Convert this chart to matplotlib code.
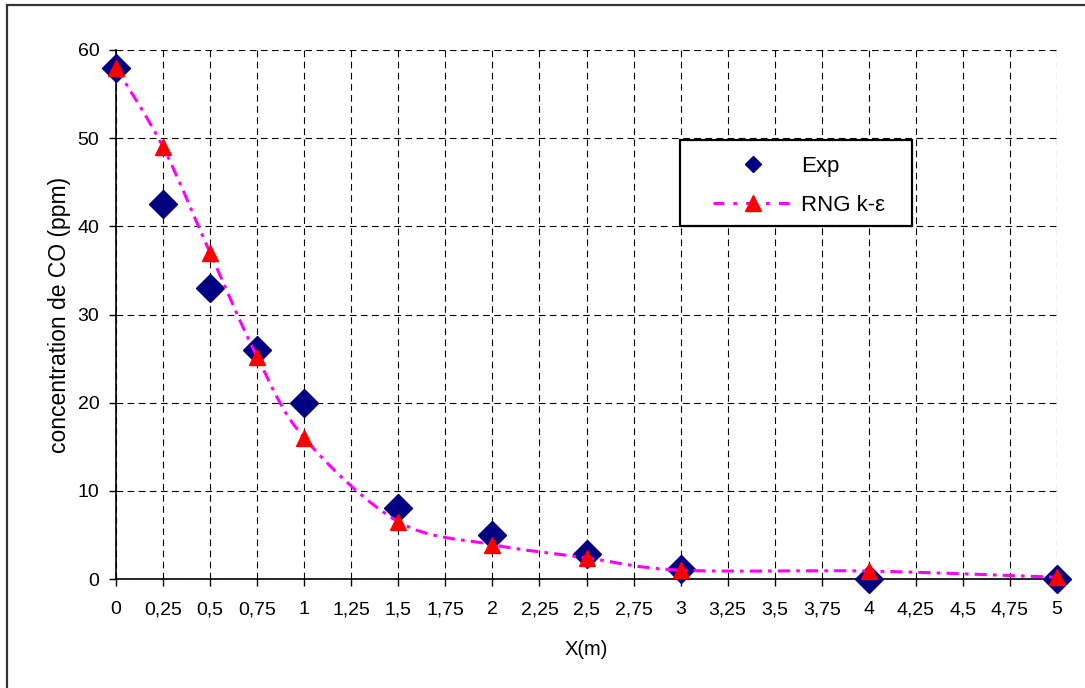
import matplotlib
matplotlib.use("Agg")
import matplotlib.pyplot as plt
from matplotlib.path import Path
from matplotlib.patches import PathPatch, Rectangle
from matplotlib.lines import Line2D
from matplotlib.ticker import FuncFormatter, MultipleLocator

plt.rcParams['font.family'] = ['Liberation Sans', 'DejaVu Sans']

# data
x_exp = [0, 0.25, 0.5, 0.75, 1, 1.5, 2, 2.5, 3, 4, 5]
y_exp = [58, 42.5, 33, 26, 20, 8, 5, 2.8, 1.1, 0, 0]

x_rng = [0, 0.25, 0.5, 0.75, 1, 1.5, 2, 2.5, 3, 4, 5]
y_rng = [58, 49, 37, 25.2, 16, 6.5, 3.9, 2.4, 1.0, 0.9, 0.2]

EXP_COLOR = '#000080'
RNG_COLOR = '#FF0000'
LINE_COLOR = '#FF00FF'
LINE_STYLE = (0, (4, 2, 1.2, 2))


def smooth_path(xs, ys):
    # Excel-like smoothed line: cubic Bezier segments with Catmull-Rom tangents
    pts = list(zip(xs, ys))
    n = len(pts)
    verts = [pts[0]]
    codes = [Path.MOVETO]
    for i in range(n - 1):
        p0 = pts[i - 1] if i > 0 else pts[i]
        p1 = pts[i]
        p2 = pts[i + 1]
        p3 = pts[i + 2] if i + 2 < n else pts[i + 1]
        c1 = (p1[0] + (p2[0] - p0[0]) / 6, p1[1] + (p2[1] - p0[1]) / 6)
        c2 = (p2[0] - (p3[0] - p1[0]) / 6, p2[1] - (p3[1] - p1[1]) / 6)
        verts += [c1, c2, p2]
        codes += [Path.CURVE4] * 3
    return Path(verts, codes)


fig = plt.figure(figsize=(10.85, 6.88), dpi=100)
ax = fig.add_axes([116 / 1085, 1 - 579 / 688, (1057 - 116) / 1085, (579 - 50) / 688])

# outer chart frame
fig.patches.append(Rectangle((7 / 1085, -0.05), 1.2, 1.05 - 5 / 688, transform=fig.transFigure,
                             fill=False, edgecolor='#333333', linewidth=1.6))

ax.set_xlim(0, 5)
ax.set_ylim(0, 60)
ax.xaxis.set_major_locator(MultipleLocator(0.25))
ax.yaxis.set_major_locator(MultipleLocator(10))

fmt = FuncFormatter(lambda v, p: ('%g' % v).replace('.', ','))
ax.xaxis.set_major_formatter(fmt)
ax.yaxis.set_major_formatter(fmt)

ax.grid(True, color='black', linestyle=(0, (6, 4)), linewidth=0.8)
ax.set_axisbelow(True)
for s in ['top', 'right']:
    ax.spines[s].set_visible(False)
for s in ['left', 'bottom']:
    ax.spines[s].set_color('black')
    ax.spines[s].set_linewidth(1.2)

ax.tick_params(axis='both', direction='out', length=5, width=1, labelsize=14, colors='black')
ax.tick_params(axis='x', pad=11)
ax.tick_params(axis='y', pad=7)

ax.plot(x_exp, y_exp, linestyle='none', marker='D', markersize=14,
        color=EXP_COLOR, clip_on=False, zorder=3)

curve = PathPatch(smooth_path(x_rng, y_rng), fill=False, edgecolor=LINE_COLOR,
                  linewidth=2.2, linestyle=LINE_STYLE, zorder=4, clip_on=False)
ax.add_patch(curve)
ax.plot(x_rng, y_rng, linestyle='none', marker='^', markersize=12,
        color=RNG_COLOR, clip_on=False, zorder=5)

ax.set_xlabel('X(m)', fontsize=14.5, labelpad=16)
ax.set_ylabel('concentration de CO (ppm)', fontsize=16.5, labelpad=5)

# legend box (drawn separately so its size can follow the reference)
ax.add_patch(Rectangle((0.599, 0.668), 0.247, 0.162, transform=ax.transAxes,
                       facecolor='white', edgecolor='black', linewidth=1.6, zorder=6))

h_exp = Line2D([], [], linestyle='none', marker='D', markersize=8.5, color=EXP_COLOR)
h_rng = Line2D([], [], color=LINE_COLOR, linewidth=2.2, linestyle=(0, (3.5, 3, 1.2, 3)),
               marker='^', markersize=12, markerfacecolor=RNG_COLOR, markeredgecolor=RNG_COLOR)
leg = ax.legend([h_exp, h_rng], ['Exp', 'RNG k-ε'], loc='upper left',
                bbox_to_anchor=(0.634, 0.800), frameon=False,
                fontsize=16, handlelength=3.6, handletextpad=0.4, labelspacing=0.8,
                borderpad=0, borderaxespad=0)
leg.set_zorder(7)

fig.savefig('out.png', dpi=100)
